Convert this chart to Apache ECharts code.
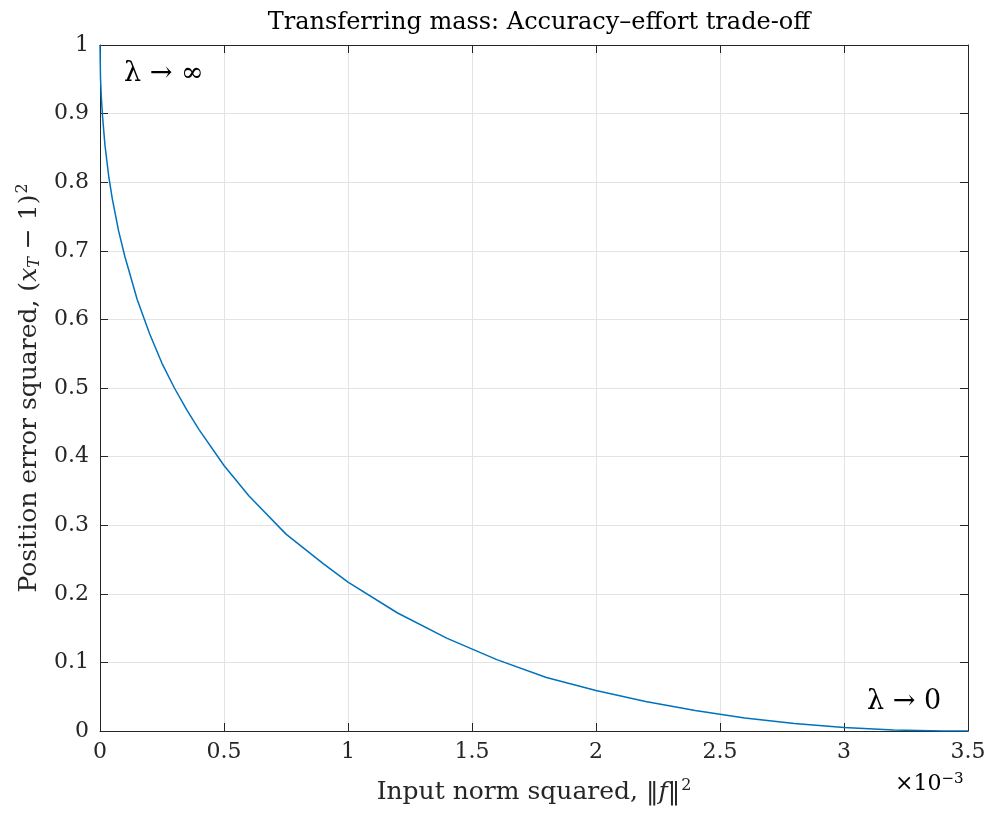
<!DOCTYPE html>
<html>
<head>
<meta charset="utf-8">
<script src="https://cdn.jsdelivr.net/npm/echarts@6/dist/echarts.min.js"></script>
<style>html,body{margin:0;padding:0;background:#fff}#c{width:990px;height:813px}</style>
</head>
<body>
<div id="c"></div>
<script>
// Input norm squared (units of 1e-3)
const xNorm = [0, 0.002, 0.005, 0.01, 0.02, 0.035, 0.05, 0.075, 0.1, 0.15, 0.2, 0.25, 0.3, 0.35, 0.4, 0.5, 0.6, 0.75, 0.9, 1.0, 1.2, 1.4, 1.6, 1.8, 2.0, 2.2, 2.4, 2.6, 2.8, 3.0, 3.2, 3.4, 3.5];
// Position error squared
const yErr = [1.0, 0.952, 0.926, 0.897, 0.854, 0.809, 0.775, 0.729, 0.692, 0.629, 0.579, 0.536, 0.500, 0.468, 0.439, 0.387, 0.343, 0.287, 0.244, 0.217, 0.172, 0.135, 0.104, 0.078, 0.059, 0.043, 0.030, 0.019, 0.011, 0.005, 0.0013, 0.0001, 0];
const xTicks = {min: 0, max: 3.5, interval: 0.5};
const yTicks = {min: 0, max: 1, interval: 0.1};

const FONT = '"DejaVu Serif", "Liberation Serif", serif';
const axisColor = '#262626';
const gridColor = '#e3e3e3';

const chart = echarts.init(document.getElementById('c'), null, {renderer: 'canvas'});
const baseAxis = {
  type: 'value',
  axisLine: {show: true, onZero: false, lineStyle: {color: axisColor, width: 1}},
  axisTick: {show: true, inside: true, length: 8, lineStyle: {color: axisColor, width: 1}},
  splitLine: {show: false},
};
chart.setOption({
  animation: false,
  backgroundColor: '#fff',
  title: {
    text: 'Transferring mass: Accuracy\u2013effort trade-off',
    left: 534, top: 6, textAlign: 'center',
    textStyle: {fontFamily: FONT, fontWeight: 'normal', fontSize: 24, color: '#000'}
  },
  grid: {left: 100, right: 22, top: 45, bottom: 82, containLabel: false},
  xAxis: [
    Object.assign({}, baseAxis, {
      position: 'bottom', min: xTicks.min, max: xTicks.max, interval: xTicks.interval,
      splitLine: {show: true, lineStyle: {color: gridColor, width: 1}},
      axisLabel: {fontFamily: FONT, fontSize: 22, color: '#262626', margin: 10},
      name: '{n|Input norm squared, \u2016}{i|f}{n|\u2016}{s|2}',
      nameLocation: 'middle', nameGap: 47,
      nameTextStyle: {
        rich: {
          n: {fontFamily: FONT, fontSize: 25, color: '#262626'},
          i: {fontFamily: FONT, fontSize: 25, fontStyle: 'italic', color: '#262626'},
          s: {fontFamily: FONT, fontSize: 16, color: '#262626', verticalAlign: 'top', padding: [0, 0, 12, 1]}
        }
      }
    }),
    Object.assign({}, baseAxis, {
      position: 'top', min: xTicks.min, max: xTicks.max, interval: xTicks.interval,
      axisLabel: {show: false}
    })
  ],
  yAxis: [
    Object.assign({}, baseAxis, {
      position: 'left', min: yTicks.min, max: yTicks.max, interval: yTicks.interval,
      splitLine: {show: true, lineStyle: {color: gridColor, width: 1}},
      axisLabel: {fontFamily: FONT, fontSize: 22, color: '#262626', margin: 11},
      name: '{n|Position error squared, (}{i|x}{b|T}{n| \u2212 1)}{s|2}',
      nameLocation: 'middle', nameGap: 53, nameRotate: 90,
      nameTextStyle: {
        rich: {
          n: {fontFamily: FONT, fontSize: 25, color: '#262626'},
          i: {fontFamily: FONT, fontSize: 25, fontStyle: 'italic', color: '#262626'},
          b: {fontFamily: FONT, fontSize: 16, fontStyle: 'italic', color: '#262626', verticalAlign: 'bottom', padding: [10, 0, 0, 0]},
          s: {fontFamily: FONT, fontSize: 16, color: '#262626', verticalAlign: 'top', padding: [0, 0, 12, 1]}
        }
      }
    }),
    Object.assign({}, baseAxis, {
      position: 'right', min: yTicks.min, max: yTicks.max, interval: yTicks.interval,
      axisLabel: {show: false}
    })
  ],
  graphic: [
    {type: 'text', left: 124, top: 60, style: {text: '\u03bb \u2192 \u221e', font: '27px ' + FONT, fill: '#000'}},
    {type: 'text', left: 867, top: 688, style: {text: '\u03bb \u2192 0', font: '27px ' + FONT, fill: '#000'}},
    {type: 'text', left: 895, top: 772, style: {
      rich: {
        n: {fontFamily: FONT, fontSize: 22, color: '#262626'},
        s: {fontFamily: FONT, fontSize: 15, color: '#262626', verticalAlign: 'top', padding: [0, 0, 10, 0]}
      },
      text: '{n|\u00d710}{s|\u22123}'
    }}
  ],
  series: [{
    type: 'line',
    xAxisIndex: 0, yAxisIndex: 0,
    data: xNorm.map((x, i) => [x, yErr[i]]),
    showSymbol: false,
    smooth: false,
    lineStyle: {color: '#0072BD', width: 1.5},
    itemStyle: {color: '#0072BD'}
  }]
});
</script>
</body>
</html>
